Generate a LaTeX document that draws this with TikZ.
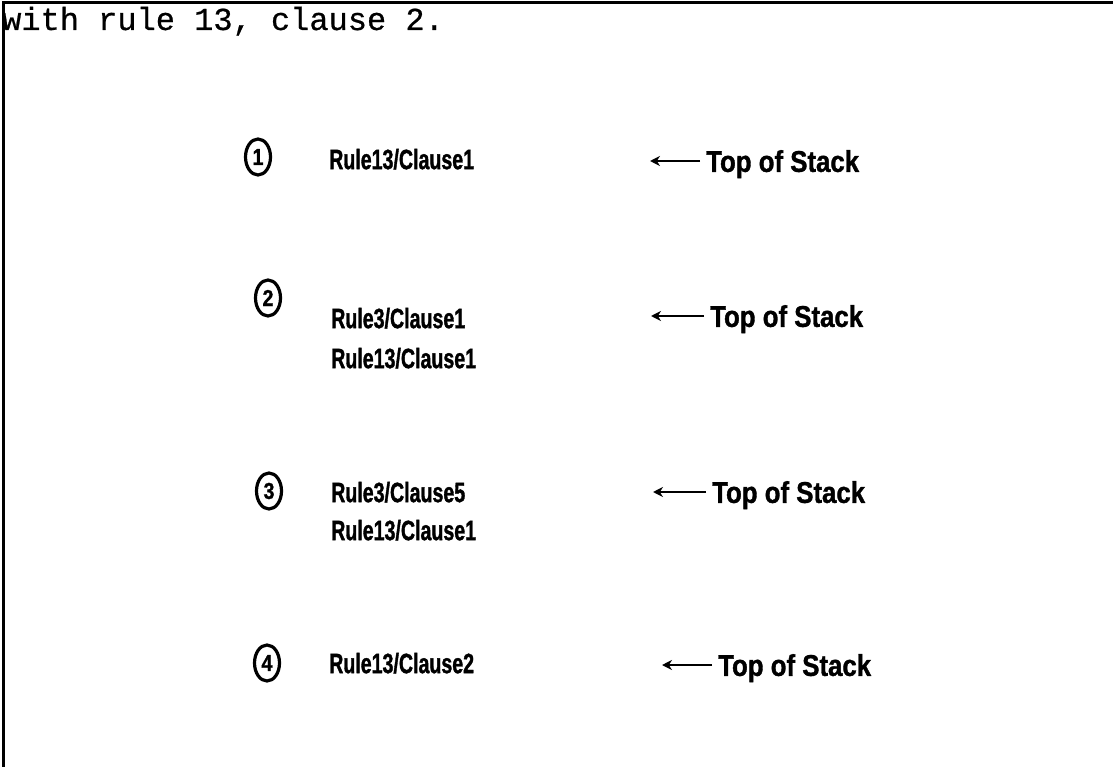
\documentclass[tikz,border=0pt]{standalone}
\usepackage{fontspec}
\usetikzlibrary{arrows.meta,shapes.geometric}
\setmainfont{Liberation Sans}
\newfontfamily\rulefont[FakeStretch=0.70,FakeBold=1.2]{Liberation Sans Bold}
\newfontfamily\tosfont[FakeStretch=0.86,FakeBold=1.2]{Liberation Sans Bold}
\newfontfamily\numfont[FakeStretch=0.85,FakeBold=1.2]{Liberation Sans Bold}
\newfontfamily\typefont[FakeBold=0.6]{Liberation Mono}
\tikzset{
  frameline/.style={line width=3pt, line cap=rect},
  listing/.style={anchor=base west, inner sep=0pt, font=\typefont\fontsize{32}{36}\selectfont},
  numcirc/.style={draw, ellipse, line width=3.2pt, minimum width=25pt, minimum height=36pt,
    inner sep=0pt, font=\numfont\fontsize{23}{25}\selectfont},
  entry/.style={anchor=west, inner sep=0pt, text depth=0pt, font=\rulefont\fontsize{28}{32}\selectfont},
  toslabel/.style={anchor=west, inner sep=0pt, text depth=0pt, font=\tosfont\fontsize{30}{34}\selectfont},
  stackarrow/.style={line width=2.6pt, shorten <=6pt, -{Stealth[length=10pt,width=10pt]}}
}
\begin{document}
\begin{tikzpicture}[x=1pt,y=-1pt]
  \useasboundingbox (0,0) rectangle (1113,767);
  % page frame: left edge and top edge
  \draw[frameline] (3,767) -- (3,3) -- (1113,3);
  \node[listing] (head) at (2,30) {with rule 13, clause 2.};

  % state 1
  \node[numcirc] (c1) at (258,157) {1};
  \node[entry] (r1a) at (329,159) {Rule13/Clause1};
  \node[toslabel] (tos1) at (706,161) {Top of Stack};
  \coordinate (tip1) at (650,161);
  \draw[stackarrow] (tos1.west) -- (tip1);

  % state 2
  \node[numcirc] (c2) at (268,298) {2};
  \node[entry] (r2a) at (331,318) {Rule3/Clause1};
  \node[entry] (r2b) at (331,358) {Rule13/Clause1};
  \node[toslabel] (tos2) at (710,316) {Top of Stack};
  \coordinate (tip2) at (651,316);
  \draw[stackarrow] (tos2.west) -- (tip2);

  % state 3
  \node[numcirc] (c3) at (269,491) {3};
  \node[entry] (r3a) at (331,492) {Rule3/Clause5};
  \node[entry] (r3b) at (331,530) {Rule13/Clause1};
  \node[toslabel] (tos3) at (712,492) {Top of Stack};
  \coordinate (tip3) at (653,492);
  \draw[stackarrow] (tos3.west) -- (tip3);

  % state 4
  \node[numcirc] (c4) at (267,663) {4};
  \node[entry] (r4a) at (329,663) {Rule13/Clause2};
  \node[toslabel] (tos4) at (718,665) {Top of Stack};
  \coordinate (tip4) at (662,665);
  \draw[stackarrow] (tos4.west) -- (tip4);
\end{tikzpicture}
\end{document}
